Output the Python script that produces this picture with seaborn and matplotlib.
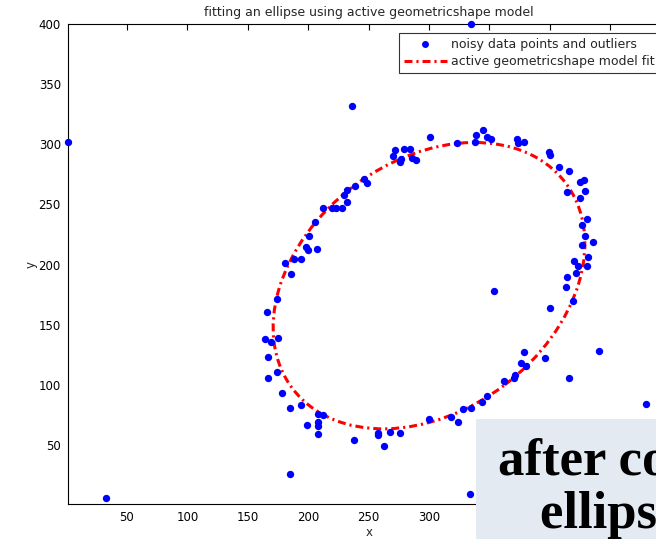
import matplotlib
matplotlib.use("Agg")
import matplotlib.pyplot as plt
from matplotlib.patches import Ellipse, Rectangle
from matplotlib.lines import Line2D
import pandas as pd
import seaborn as sns

# Noisy samples around the ellipse plus scattered outliers
x_pts = [1, 33, 185, 334, 335, 236, 354, 441, 416, 480, 396, 400,
         301, 272, 279, 284, 270, 277, 276, 286, 289, 246, 249, 239, 232, 230,
         232, 212, 220, 223, 228, 206, 201, 198, 200, 207, 188, 194, 181, 186,
         323, 339, 345, 338, 348, 351, 373, 374, 379, 399, 400, 408, 416, 425,
         428, 429, 414, 425, 431, 427, 429, 436, 427, 432, 420, 423, 431, 422, 414,
         413, 419, 379, 376, 380, 362, 370, 371, 348, 344, 328, 335, 318, 324, 300,
         174, 166, 164, 169, 175, 167, 174, 167, 178, 185, 194, 208, 212, 199,
         208, 208, 208, 238, 258, 258, 268, 276, 263]
y_pts = [302, 6, 26, 9, 400, 332, 178, 128, 106, 84, 122, 164,
         306, 295, 296, 296, 290, 288, 285, 289, 287, 271, 268, 265, 262, 258,
         252, 247, 247, 247, 247, 235, 224, 215, 212, 213, 205, 205, 201, 192,
         301, 308, 312, 302, 306, 304, 304, 301, 302, 294, 291, 281, 278, 269,
         270, 261, 260, 255, 238, 233, 224, 219, 216, 206, 203, 199, 199, 193, 190,
         181, 170, 127, 118, 116, 103, 106, 108, 91, 86, 80, 81, 73, 69, 72,
         171, 161, 138, 136, 139, 123, 111, 106, 93, 81, 83, 76, 75, 67,
         69, 66, 59, 54, 60, 58, 61, 60, 49]

# Fitted ellipse parameters (centre, full axes lengths, rotation in degrees)
fit_center = (300, 182.5)
fit_width = 283.4
fit_height = 207.2
fit_angle = 37.3

x_ticks = [50, 100, 150, 200, 250, 300, 350, 400, 450, 500]
y_ticks = [50, 100, 150, 200, 250, 300, 350, 400]

title_text = "fitting an ellipse using active geometricshape model"
point_label = "noisy data points and outliers"
fit_label = "active geometricshape model fit"

sns.set_theme(style="white")
plt.rcParams["font.family"] = ["DejaVu Sans"]

W, H = 656, 539
fig = plt.figure(figsize=(W / 100, H / 100), dpi=100)
ax_left, ax_bottom, ax_top, ax_right = 67.8, 504, 24, 670.6
ax = fig.add_axes([ax_left / W, (H - ax_bottom) / H,
                   (ax_right - ax_left) / W, (ax_bottom - ax_top) / H])

df = pd.DataFrame({"x": x_pts, "y": y_pts})
sns.scatterplot(data=df, x="x", y="y", ax=ax, color=(0, 0, 1), s=28,
                linewidth=0, marker="o", zorder=3, clip_on=False, legend=False)

dash = (0, (2.6, 1.3, 0.7, 1.3))
ell = Ellipse(fit_center, fit_width, fit_height, angle=fit_angle,
              fill=False, edgecolor=(1, 0, 0), linewidth=2.2,
              linestyle=dash, zorder=2)
ax.add_patch(ell)

ax.set_xlim(1, 500)
ax.set_ylim(1, 400)
ax.set_xticks(x_ticks)
ax.set_yticks(y_ticks)
ax.tick_params(direction="in", length=4, width=0.8, top=True, right=True,
               labelsize=8.5, colors="black", pad=5)
for sp in ax.spines.values():
    sp.set_color("black")
    sp.set_linewidth(0.8)
ax.set_xlabel("x", fontsize=8.5, labelpad=1.5)
ax.set_ylabel("y", fontsize=8.5, labelpad=1)
ax.set_title(title_text, fontsize=9, pad=6)

handles = [
    Line2D([], [], linestyle="none", marker="o", markersize=5,
           markerfacecolor=(0, 0, 1), markeredgewidth=0),
    Line2D([], [], color=(1, 0, 0), linewidth=2.2, linestyle=dash),
]
leg = ax.legend(handles, [point_label, fit_label], loc="upper left",
                bbox_to_anchor=(399 / W, 1 - 33.3 / H),
                bbox_transform=fig.transFigure, borderaxespad=0,
                fancybox=False, frameon=True, fontsize=9, handlelength=3.4,
                handletextpad=0.35, borderpad=0.4, labelspacing=0.3)
leg.get_frame().set_edgecolor("black")
leg.get_frame().set_linewidth(0.8)

# Caption panel laid over the lower right corner
fig.patches.append(Rectangle((476 / W, 0), 0.3, (H - 419) / H,
                             transform=fig.transFigure, facecolor="#E3EAF2",
                             edgecolor="none", zorder=10))
cap_font = dict(family=["Liberation Serif", "DejaVu Serif"], fontweight="bold",
                fontsize=38, color="black", zorder=11)
fig.text(498 / W, (H - 475) / H, "after convergence", ha="left",
         va="baseline", **cap_font)
fig.text(540 / W, (H - 528) / H, "ellipse fit", ha="left",
         va="baseline", **cap_font)

fig.savefig("out.png", dpi=100)
